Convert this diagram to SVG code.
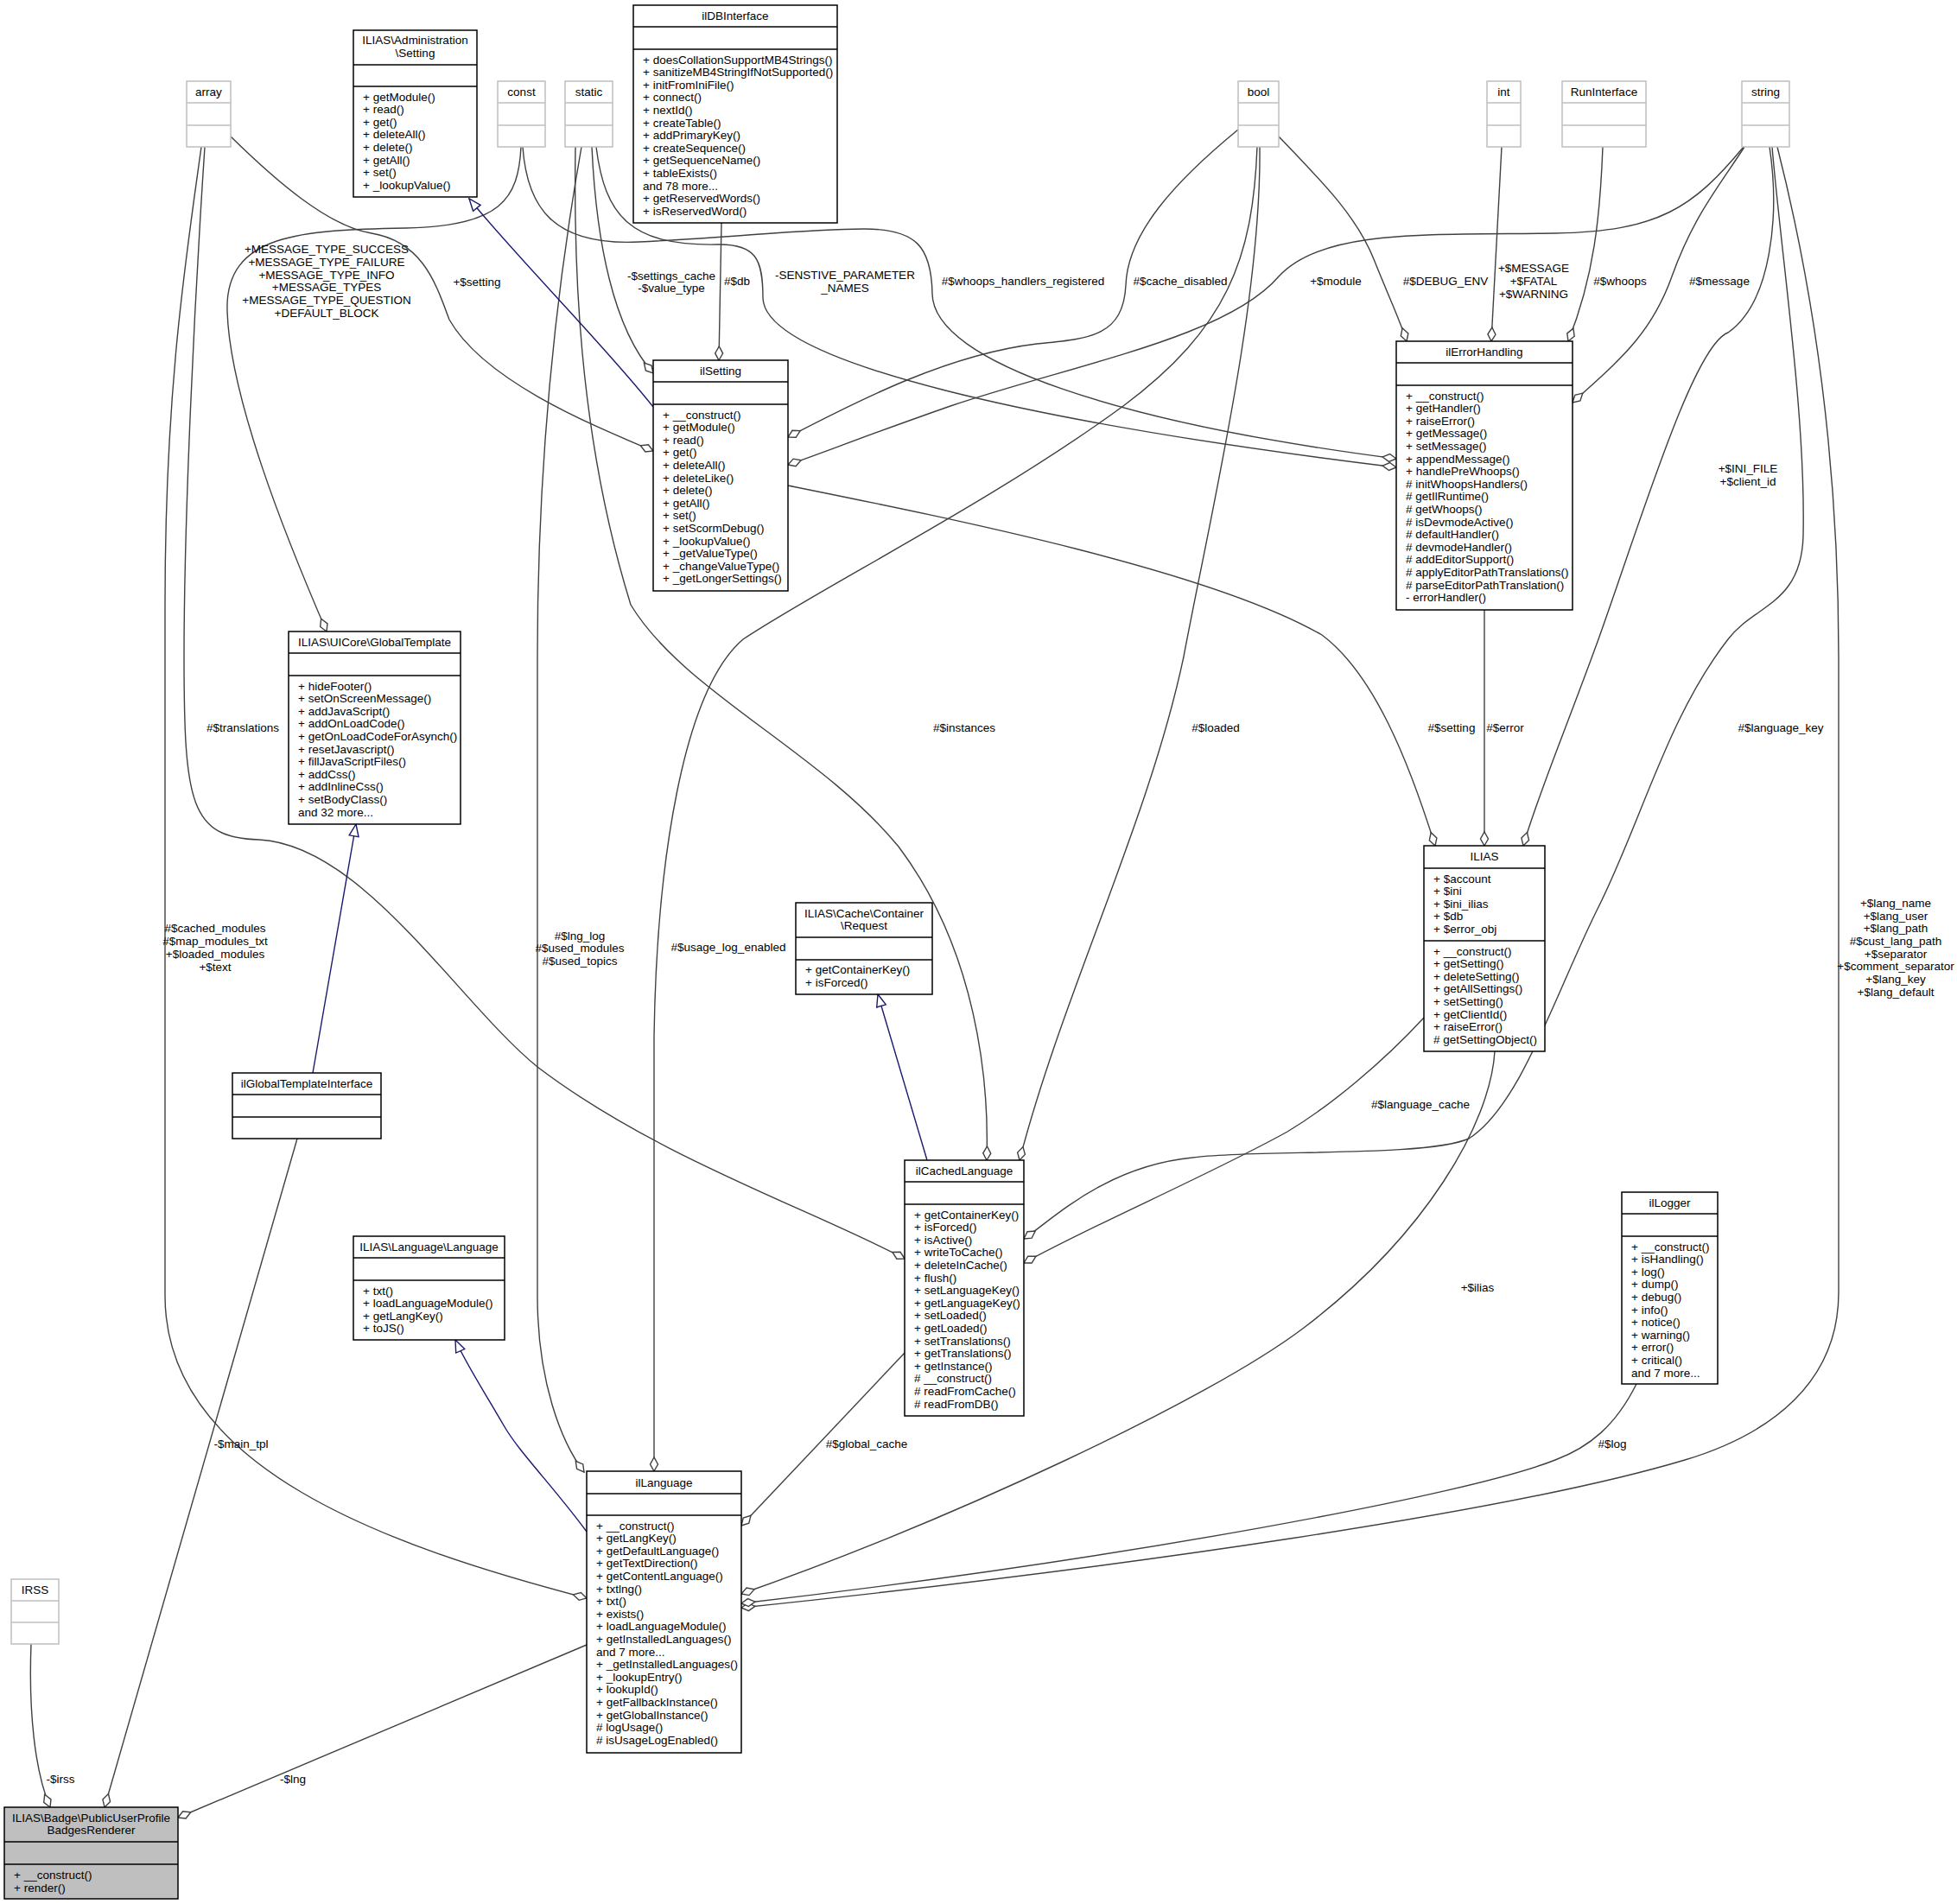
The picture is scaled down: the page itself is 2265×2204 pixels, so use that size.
<svg xmlns="http://www.w3.org/2000/svg" width="2265" height="2204" viewBox="0 0 2265 2204">
<style>
text{font-family:"Liberation Sans",Arial,Helvetica,sans-serif;font-size:13.5px;fill:#000}
.c{text-anchor:middle}
.box{fill:#fff;stroke:#000;stroke-width:1.5}
.gbox{fill:#fff;stroke:#bfbfbf;stroke-width:1.5}
.sel{fill:#bfbfbf;stroke:#000;stroke-width:1.5}
.sep{stroke:#000;stroke-width:1.5}
.gsep{stroke:#bfbfbf;stroke-width:1.5}
.e{fill:none;stroke:#404040;stroke-width:1.4}
.inh{fill:none;stroke:#191970;stroke-width:1.4}
</style>
<defs>
<marker id="dia" markerUnits="userSpaceOnUse" markerWidth="20" markerHeight="12" refX="16" refY="5" orient="auto" overflow="visible">
<path d="M16,5 L8,0.5 L0,5 L8,9.5 Z" fill="#fff" stroke="#404040" stroke-width="1.4"/>
</marker>
<marker id="tri" markerUnits="userSpaceOnUse" markerWidth="16" markerHeight="12" refX="14" refY="6" orient="auto" overflow="visible">
<path d="M14,6 L0,0.5 L0,11.5 Z" fill="#fff" stroke="#191970" stroke-width="1.4"/>
</marker>
</defs>

<g id="connectors">
<path class="e" marker-end="url(#dia)" d="M267,158 C320,210 380,262 430,270 C490,280 505,330 520,370 C560,440 680,490 756,522"/>
<path class="e" marker-end="url(#dia)" d="M233,170 C215,300 191,450 191,700 L191,1500 C191,1700 450,1790 679,1850"/>
<path class="e" marker-end="url(#dia)" d="M237,170 C225,350 213,600 213,760 C213,930 220,970 300,972 C420,978 530,1160 622,1235 C760,1340 940,1400 1047,1457"/>
<path class="e" marker-end="url(#dia)" d="M603,170 C600,230 580,262 470,264 C350,266 260,270 263,360 C266,460 330,620 378,731"/>
<path class="e" marker-end="url(#dia)" d="M690,170 C700,250 730,285 830,283 C875,282 883,300 883,345 C885,420 1200,490 1616,541"/>
<path class="e" marker-end="url(#dia)" d="M605,170 C610,240 640,285 740,280 C850,275 930,265 1000,265 C1060,265 1078,285 1079,340 C1080,420 1300,490 1616,531"/>
<path class="e" marker-end="url(#dia)" d="M685,170 C690,280 710,380 756,432"/>
<path class="e" marker-end="url(#dia)" d="M673,170 C650,300 622,500 622,760 L622,1500 C622,1600 650,1670 676,1704"/>
<path class="e" marker-end="url(#dia)" d="M666,170 C664,300 668,500 730,700 C790,800 950,870 1040,980 C1130,1100 1145,1250 1142,1343"/>
<path class="e" marker-end="url(#dia)" d="M835,258 L832,417"/>
<path class="inh" marker-end="url(#tri)" d="M756,471 C700,400 600,300 543,230"/>
<path class="e" marker-end="url(#dia)" d="M1433,150 C1360,210 1305,270 1303,330 C1300,390 1260,392 1200,398 C1100,410 1000,460 912,506"/>
<path class="e" marker-end="url(#dia)" d="M2018,170 C1960,240 1920,268 1800,270 C1650,272 1530,265 1480,320 C1420,390 1250,420 1100,470 C1000,505 950,525 912,538"/>
<path class="e" marker-end="url(#dia)" d="M1480,158 C1530,210 1570,250 1590,300 C1610,350 1620,370 1628,395"/>
<path class="e" marker-end="url(#dia)" d="M1738,170 L1726,395"/>
<path class="e" marker-end="url(#dia)" d="M1855,170 C1852,250 1845,320 1815,395"/>
<path class="e" marker-end="url(#dia)" d="M2019,170 C1990,215 1960,250 1935,320 C1910,390 1870,420 1820,466"/>
<path class="e" marker-end="url(#dia)" d="M2048,170 C2060,250 2050,350 2000,385 C1960,400 1900,600 1850,740 C1810,850 1780,920 1763,979"/>
<path class="e" marker-end="url(#dia)" d="M2051,170 C2062,300 2090,480 2087,620 C2085,700 2030,700 2000,740 C1930,830 1900,950 1850,1050 C1800,1150 1760,1280 1700,1318 C1650,1340 1450,1330 1380,1340 C1280,1350 1220,1410 1185,1434"/>
<path class="e" marker-end="url(#dia)" d="M2057,170 C2090,300 2128,500 2128,760 L2128,1496 C2128,1600 2050,1660 1950,1690 C1750,1750 1300,1815 858,1861"/>
<path class="e" marker-end="url(#dia)" d="M1730,1217 C1725,1300 1650,1430 1509,1537 C1400,1620 1100,1760 858,1845"/>
<path class="e" marker-end="url(#dia)" d="M1894,1602 C1870,1650 1840,1675 1800,1690 C1700,1730 1300,1805 858,1856"/>
<path class="e" marker-end="url(#dia)" d="M1648,1178 C1600,1230 1540,1280 1490,1310 C1400,1360 1260,1420 1185,1462"/>
<path class="e" marker-end="url(#dia)" d="M912,562 C1100,600 1400,660 1530,735 C1590,780 1630,880 1661,979"/>
<path class="e" marker-end="url(#dia)" d="M1718,706 L1718,979"/>
<path class="e" marker-end="url(#dia)" d="M1458,170 C1460,350 1400,600 1370,760 C1330,950 1230,1150 1180,1343"/>
<path class="e" marker-end="url(#dia)" d="M1455,170 C1450,300 1420,380 1300,470 C1150,580 950,680 860,740 C790,800 760,1000 757,1200 L757,1703"/>
<path class="e" marker-end="url(#dia)" d="M1047,1566 L858,1766"/>
<path class="inh" marker-end="url(#tri)" d="M1073,1343 L1016,1151"/>
<path class="inh" marker-end="url(#tri)" d="M679,1773 C640,1720 600,1680 583,1650 C560,1610 540,1580 527,1551"/>
<path class="inh" marker-end="url(#tri)" d="M362,1242 L412,954"/>
<path class="e" marker-end="url(#dia)" d="M344,1318 L121,2092"/>
<path class="e" marker-end="url(#dia)" d="M36,1903 C33,1980 40,2050 58,2092"/>
<path class="e" marker-end="url(#dia)" d="M679,1904 L206,2104"/>

<text class="c" x="378" y="293">+MESSAGE_TYPE_SUCCESS</text>
<text class="c" x="378" y="308">+MESSAGE_TYPE_FAILURE</text>
<text class="c" x="378" y="323">+MESSAGE_TYPE_INFO</text>
<text class="c" x="378" y="337">+MESSAGE_TYPES</text>
<text class="c" x="378" y="352">+MESSAGE_TYPE_QUESTION</text>
<text class="c" x="378" y="367">+DEFAULT_BLOCK</text>
<text class="c" x="552" y="331">+$setting</text>
<text class="c" x="777" y="324">-$settings_cache</text>
<text class="c" x="777" y="338">-$value_type</text>
<text class="c" x="853" y="330">#$db</text>
<text class="c" x="978" y="323">-SENSTIVE_PARAMETER</text>
<text class="c" x="978" y="338">_NAMES</text>
<text class="c" x="1184" y="330">#$whoops_handlers_registered</text>
<text class="c" x="1366" y="330">#$cache_disabled</text>
<text class="c" x="1546" y="330">+$module</text>
<text class="c" x="1673" y="330">#$DEBUG_ENV</text>
<text class="c" x="1775" y="315">+$MESSAGE</text>
<text class="c" x="1775" y="330">+$FATAL</text>
<text class="c" x="1775" y="345">+$WARNING</text>
<text class="c" x="1875" y="330">#$whoops</text>
<text class="c" x="1990" y="330">#$message</text>
<text class="c" x="2023" y="547">+$INI_FILE</text>
<text class="c" x="2023" y="562">+$client_id</text>
<text class="c" x="281" y="847">#$translations</text>
<text class="c" x="249" y="1079">#$cached_modules</text>
<text class="c" x="249" y="1094">#$map_modules_txt</text>
<text class="c" x="249" y="1109">+$loaded_modules</text>
<text class="c" x="249" y="1124">+$text</text>
<text class="c" x="671" y="1088">#$lng_log</text>
<text class="c" x="671" y="1102">#$used_modules</text>
<text class="c" x="671" y="1117">#$used_topics</text>
<text class="c" x="1116" y="847">#$instances</text>
<text class="c" x="1407" y="847">#$loaded</text>
<text class="c" x="843" y="1101">#$usage_log_enabled</text>
<text class="c" x="1680" y="847">#$setting</text>
<text class="c" x="1742" y="847">#$error</text>
<text class="c" x="2061" y="847">#$language_key</text>
<text class="c" x="2194" y="1050">+$lang_name</text>
<text class="c" x="2194" y="1065">+$lang_user</text>
<text class="c" x="2194" y="1079">+$lang_path</text>
<text class="c" x="2194" y="1094">#$cust_lang_path</text>
<text class="c" x="2194" y="1109">+$separator</text>
<text class="c" x="2194" y="1123">+$comment_separator</text>
<text class="c" x="2194" y="1138">+$lang_key</text>
<text class="c" x="2194" y="1153">+$lang_default</text>
<text class="c" x="1644" y="1283">#$language_cache</text>
<text class="c" x="279" y="1676">-$main_tpl</text>
<text class="c" x="70" y="2064">-$irss</text>
<text class="c" x="339" y="2064">-$lng</text>
<text class="c" x="1003" y="1676">#$global_cache</text>
<text class="c" x="1710" y="1495">+$ilias</text>
<text class="c" x="1866" y="1676">#$log</text>
</g>

<g id="array"><rect class="gbox" x="216" y="94" width="51" height="76"/><line class="gsep" x1="216" y1="119" x2="267" y2="119"/><line class="gsep" x1="216" y1="145" x2="267" y2="145"/><text class="c" x="241.5" y="111">array</text></g>
<g id="const"><rect class="gbox" x="576" y="94" width="55" height="76"/><line class="gsep" x1="576" y1="119" x2="631" y2="119"/><line class="gsep" x1="576" y1="145" x2="631" y2="145"/><text class="c" x="603.5" y="111">const</text></g>
<g id="static"><rect class="gbox" x="654" y="94" width="55" height="76"/><line class="gsep" x1="654" y1="119" x2="709" y2="119"/><line class="gsep" x1="654" y1="145" x2="709" y2="145"/><text class="c" x="681.5" y="111">static</text></g>
<g id="bool"><rect class="gbox" x="1433" y="94" width="47" height="76"/><line class="gsep" x1="1433" y1="119" x2="1480" y2="119"/><line class="gsep" x1="1433" y1="145" x2="1480" y2="145"/><text class="c" x="1456.5" y="111">bool</text></g>
<g id="int"><rect class="gbox" x="1721" y="94" width="39" height="76"/><line class="gsep" x1="1721" y1="119" x2="1760" y2="119"/><line class="gsep" x1="1721" y1="145" x2="1760" y2="145"/><text class="c" x="1740.5" y="111">int</text></g>
<g id="RunInterface"><rect class="gbox" x="1808" y="94" width="97" height="76"/><line class="gsep" x1="1808" y1="119" x2="1905" y2="119"/><line class="gsep" x1="1808" y1="145" x2="1905" y2="145"/><text class="c" x="1856.5" y="111">RunInterface</text></g>
<g id="string"><rect class="gbox" x="2016" y="94" width="55" height="76"/><line class="gsep" x1="2016" y1="119" x2="2071" y2="119"/><line class="gsep" x1="2016" y1="145" x2="2071" y2="145"/><text class="c" x="2043.5" y="111">string</text></g>
<g id="IRSS"><rect class="gbox" x="13" y="1828" width="55" height="75"/><line class="gsep" x1="13" y1="1853" x2="68" y2="1853"/><line class="gsep" x1="13" y1="1878" x2="68" y2="1878"/><text class="c" x="40.5" y="1845">IRSS</text></g>

<g id="AdminSetting"><rect class="box" x="409" y="35" width="143" height="193"/><line class="sep" x1="409" y1="75" x2="552" y2="75"/><line class="sep" x1="409" y1="100" x2="552" y2="100"/>
<text class="c" x="480.5" y="51">ILIAS\Administration</text><text class="c" x="480.5" y="66">\Setting</text>
<text x="420" y="116.5">+ getModule()</text><text x="420" y="131.1">+ read()</text><text x="420" y="145.7">+ get()</text><text x="420" y="160.3">+ deleteAll()</text><text x="420" y="174.9">+ delete()</text><text x="420" y="189.5">+ getAll()</text><text x="420" y="204.1">+ set()</text><text x="420" y="218.7">+ _lookupValue()</text></g>

<g id="ilDBInterface"><rect class="box" x="733" y="6" width="236" height="252"/><line class="sep" x1="733" y1="31" x2="969" y2="31"/><line class="sep" x1="733" y1="57" x2="969" y2="57"/>
<text class="c" x="851" y="23">ilDBInterface</text>
<text x="744" y="73.5">+ doesCollationSupportMB4Strings()</text><text x="744" y="88.1">+ sanitizeMB4StringIfNotSupported()</text><text x="744" y="102.7">+ initFromIniFile()</text><text x="744" y="117.3">+ connect()</text><text x="744" y="131.9">+ nextId()</text><text x="744" y="146.5">+ createTable()</text><text x="744" y="161.1">+ addPrimaryKey()</text><text x="744" y="175.7">+ createSequence()</text><text x="744" y="190.3">+ getSequenceName()</text><text x="744" y="204.9">+ tableExists()</text><text x="744" y="219.5">and 78 more...</text><text x="744" y="234.1">+ getReservedWords()</text><text x="744" y="248.7">+ isReservedWord()</text></g>

<g id="GlobalTemplate"><rect class="box" x="334" y="731" width="199" height="223"/><line class="sep" x1="334" y1="756" x2="533" y2="756"/><line class="sep" x1="334" y1="782" x2="533" y2="782"/>
<text class="c" x="433.5" y="748">ILIAS\UICore\GlobalTemplate</text>
<text x="345" y="798.5">+ hideFooter()</text><text x="345" y="813.1">+ setOnScreenMessage()</text><text x="345" y="827.7">+ addJavaScript()</text><text x="345" y="842.3">+ addOnLoadCode()</text><text x="345" y="856.9">+ getOnLoadCodeForAsynch()</text><text x="345" y="871.5">+ resetJavascript()</text><text x="345" y="886.1">+ fillJavaScriptFiles()</text><text x="345" y="900.7">+ addCss()</text><text x="345" y="915.3">+ addInlineCss()</text><text x="345" y="929.9">+ setBodyClass()</text><text x="345" y="944.5">and 32 more...</text></g>

<g id="ilGlobalTemplateInterface"><rect class="box" x="269" y="1242" width="172" height="76"/><line class="sep" x1="269" y1="1267" x2="441" y2="1267"/><line class="sep" x1="269" y1="1293" x2="441" y2="1293"/><text class="c" x="355" y="1259">ilGlobalTemplateInterface</text></g>

<g id="LanguageLanguage"><rect class="box" x="409" y="1431" width="175" height="120"/><line class="sep" x1="409" y1="1456" x2="584" y2="1456"/><line class="sep" x1="409" y1="1482" x2="584" y2="1482"/>
<text class="c" x="496.5" y="1448">ILIAS\Language\Language</text>
<text x="420" y="1498.5">+ txt()</text><text x="420" y="1513.1">+ loadLanguageModule()</text><text x="420" y="1527.7">+ getLangKey()</text><text x="420" y="1542.3">+ toJS()</text></g>

<g id="ilSetting"><rect class="box" x="756" y="417" width="156" height="267"/><line class="sep" x1="756" y1="442" x2="912" y2="442"/><line class="sep" x1="756" y1="468" x2="912" y2="468"/>
<text class="c" x="834" y="434">ilSetting</text>
<text x="767" y="484.5">+ __construct()</text><text x="767" y="499.1">+ getModule()</text><text x="767" y="513.7">+ read()</text><text x="767" y="528.3">+ get()</text><text x="767" y="542.9">+ deleteAll()</text><text x="767" y="557.5">+ deleteLike()</text><text x="767" y="572.1">+ delete()</text><text x="767" y="586.7">+ getAll()</text><text x="767" y="601.3">+ set()</text><text x="767" y="615.9">+ setScormDebug()</text><text x="767" y="630.5">+ _lookupValue()</text><text x="767" y="645.1">+ _getValueType()</text><text x="767" y="659.7">+ _changeValueType()</text><text x="767" y="674.3">+ _getLongerSettings()</text></g>

<g id="ilErrorHandling"><rect class="box" x="1616" y="395" width="204" height="311"/><line class="sep" x1="1616" y1="420" x2="1820" y2="420"/><line class="sep" x1="1616" y1="446" x2="1820" y2="446"/>
<text class="c" x="1718" y="412">ilErrorHandling</text>
<text x="1627" y="462.5">+ __construct()</text><text x="1627" y="477.1">+ getHandler()</text><text x="1627" y="491.7">+ raiseError()</text><text x="1627" y="506.3">+ getMessage()</text><text x="1627" y="520.9">+ setMessage()</text><text x="1627" y="535.5">+ appendMessage()</text><text x="1627" y="550.1">+ handlePreWhoops()</text><text x="1627" y="564.7"># initWhoopsHandlers()</text><text x="1627" y="579.3"># getIlRuntime()</text><text x="1627" y="593.9"># getWhoops()</text><text x="1627" y="608.5"># isDevmodeActive()</text><text x="1627" y="623.1"># defaultHandler()</text><text x="1627" y="637.7"># devmodeHandler()</text><text x="1627" y="652.3"># addEditorSupport()</text><text x="1627" y="666.9"># applyEditorPathTranslations()</text><text x="1627" y="681.5"># parseEditorPathTranslation()</text><text x="1627" y="696.1">- errorHandler()</text></g>

<g id="CacheRequest"><rect class="box" x="921" y="1045" width="158" height="106"/><line class="sep" x1="921" y1="1085" x2="1079" y2="1085"/><line class="sep" x1="921" y1="1111" x2="1079" y2="1111"/>
<text class="c" x="1000" y="1062">ILIAS\Cache\Container</text><text class="c" x="1000" y="1076">\Request</text>
<text x="932" y="1127">+ getContainerKey()</text><text x="932" y="1141.6">+ isForced()</text></g>

<g id="ilCachedLanguage"><rect class="box" x="1047" y="1343" width="138" height="296"/><line class="sep" x1="1047" y1="1368" x2="1185" y2="1368"/><line class="sep" x1="1047" y1="1394" x2="1185" y2="1394"/>
<text class="c" x="1116" y="1360">ilCachedLanguage</text>
<text x="1058" y="1410.5">+ getContainerKey()</text><text x="1058" y="1425.1">+ isForced()</text><text x="1058" y="1439.7">+ isActive()</text><text x="1058" y="1454.3">+ writeToCache()</text><text x="1058" y="1468.9">+ deleteInCache()</text><text x="1058" y="1483.5">+ flush()</text><text x="1058" y="1498.1">+ setLanguageKey()</text><text x="1058" y="1512.7">+ getLanguageKey()</text><text x="1058" y="1527.3">+ setLoaded()</text><text x="1058" y="1541.9">+ getLoaded()</text><text x="1058" y="1556.5">+ setTranslations()</text><text x="1058" y="1571.1">+ getTranslations()</text><text x="1058" y="1585.7">+ getInstance()</text><text x="1058" y="1600.3"># __construct()</text><text x="1058" y="1614.9"># readFromCache()</text><text x="1058" y="1629.5"># readFromDB()</text></g>

<g id="ILIAS"><rect class="box" x="1648" y="979" width="140" height="238"/><line class="sep" x1="1648" y1="1005" x2="1788" y2="1005"/><line class="sep" x1="1648" y1="1089" x2="1788" y2="1089"/>
<text class="c" x="1718" y="996">ILIAS</text>
<text x="1659" y="1021.5">+ $account</text><text x="1659" y="1036.1">+ $ini</text><text x="1659" y="1050.7">+ $ini_ilias</text><text x="1659" y="1065.3">+ $db</text><text x="1659" y="1079.9">+ $error_obj</text>
<text x="1659" y="1105.5">+ __construct()</text><text x="1659" y="1120.1">+ getSetting()</text><text x="1659" y="1134.7">+ deleteSetting()</text><text x="1659" y="1149.3">+ getAllSettings()</text><text x="1659" y="1163.9">+ setSetting()</text><text x="1659" y="1178.5">+ getClientId()</text><text x="1659" y="1193.1">+ raiseError()</text><text x="1659" y="1207.7"># getSettingObject()</text></g>

<g id="ilLogger"><rect class="box" x="1877" y="1380" width="111" height="222"/><line class="sep" x1="1877" y1="1405" x2="1988" y2="1405"/><line class="sep" x1="1877" y1="1431" x2="1988" y2="1431"/>
<text class="c" x="1932.5" y="1397">ilLogger</text>
<text x="1888" y="1447.5">+ __construct()</text><text x="1888" y="1462.1">+ isHandling()</text><text x="1888" y="1476.7">+ log()</text><text x="1888" y="1491.3">+ dump()</text><text x="1888" y="1505.9">+ debug()</text><text x="1888" y="1520.5">+ info()</text><text x="1888" y="1535.1">+ notice()</text><text x="1888" y="1549.7">+ warning()</text><text x="1888" y="1564.3">+ error()</text><text x="1888" y="1578.9">+ critical()</text><text x="1888" y="1593.5">and 7 more...</text></g>

<g id="ilLanguage"><rect class="box" x="679" y="1703" width="179" height="326"/><line class="sep" x1="679" y1="1729" x2="858" y2="1729"/><line class="sep" x1="679" y1="1754" x2="858" y2="1754"/>
<text class="c" x="768.5" y="1721">ilLanguage</text>
<text x="690" y="1770.5">+ __construct()</text><text x="690" y="1785.1">+ getLangKey()</text><text x="690" y="1799.7">+ getDefaultLanguage()</text><text x="690" y="1814.3">+ getTextDirection()</text><text x="690" y="1828.9">+ getContentLanguage()</text><text x="690" y="1843.5">+ txtlng()</text><text x="690" y="1858.1">+ txt()</text><text x="690" y="1872.7">+ exists()</text><text x="690" y="1887.3">+ loadLanguageModule()</text><text x="690" y="1901.9">+ getInstalledLanguages()</text><text x="690" y="1916.5">and 7 more...</text><text x="690" y="1931.1">+ _getInstalledLanguages()</text><text x="690" y="1945.7">+ _lookupEntry()</text><text x="690" y="1960.3">+ lookupId()</text><text x="690" y="1974.9">+ getFallbackInstance()</text><text x="690" y="1989.5">+ getGlobalInstance()</text><text x="690" y="2004.1"># logUsage()</text><text x="690" y="2018.7"># isUsageLogEnabled()</text></g>

<g id="PublicUserProfileBadgesRenderer"><rect class="sel" x="5" y="2092" width="201" height="106"/><line class="sep" x1="5" y1="2132" x2="206" y2="2132"/><line class="sep" x1="5" y1="2158" x2="206" y2="2158"/>
<text class="c" x="105.5" y="2109">ILIAS\Badge\PublicUserProfile</text><text class="c" x="105.5" y="2123">BadgesRenderer</text>
<text x="16" y="2175">+ __construct()</text><text x="16" y="2190">+ render()</text></g>
</svg>
